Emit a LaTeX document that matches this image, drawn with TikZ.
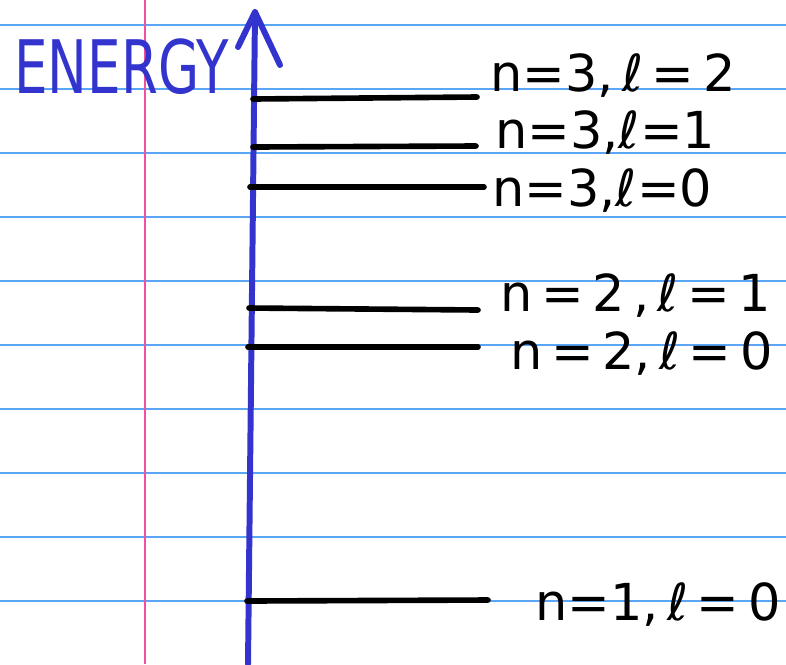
\documentclass[tikz,border=0pt]{standalone}
\usepackage{fontspec}
\setmainfont{DejaVu Sans}
\usepackage{tikz}
\usetikzlibrary{arrows.meta, positioning, calc}
\usepackage{xcolor}
\definecolor{rulecolor}{RGB}{90, 165, 245}
\definecolor{margincolor}{RGB}{240, 80, 160}
\definecolor{axiscolor}{RGB}{50, 52, 205}

\begin{document}
\begin{tikzpicture}[
    x=0.02cm, y=-0.02cm,
    % Paper styles
    ruled/.style={draw=rulecolor, line width=0.9pt},
    margin/.style={draw=margincolor, line width=1pt},
    % Diagram styles
    axis/.style={draw=axiscolor, line width=3.4pt, line cap=round, line join=round},
    level/.style={draw=black, line width=3.2pt, line cap=round},
    levellabel/.style={anchor=west, inner sep=0pt, font=\fontsize{29}{29}\selectfont},
]
\useasboundingbox (0,0) rectangle (786,664);

% Notebook paper
\foreach \y in {25,89,...,601}
  \draw [ruled] (0,\y) -- (786,\y);
\draw [margin] (145,0) -- (145,664);

% Energy axis
\coordinate (base) at (248,664);
\coordinate (tip) at (255,12);
\coordinate (wingl) at (238,47);
\coordinate (wingr) at (280,65);
\draw [axis] (base) -- (tip);
\draw [axis] (wingl) -- (tip) -- (wingr);
\node (energy) [anchor=south west, inner sep=0pt, text=axiscolor, font=\fontsize{42}{42}\selectfont, xscale=0.72] at (14,95) {ENERGY};

% Levels
\node (l32) [levellabel] at (490,76) {n=3,\,ℓ\,=\,2};
\node (l31) [levellabel] at (495,133) {n=3,ℓ=1};
\node (l30) [levellabel] at (492,191) {n=3,ℓ=0};
\node (l21) [levellabel] at (500,296) {n\,=\,2\,,\,ℓ\,=\,1};
\node (l20) [levellabel] at (510,354) {n\,=\,2,\,ℓ\,=\,0};
\node (l10) [levellabel] at (535,605) {n=1,\,ℓ\,=\,0};

\coordinate (a32) at (253,99);
\coordinate (a31) at (253,147);
\coordinate (a30) at (250,187);
\coordinate (a21) at (249,308);
\coordinate (a20) at (248,347);
\coordinate (a10) at (247,601);
\coordinate (e32) at (477,97);
\coordinate (e31) at (476,146);
\coordinate (e30) at (484,187);
\coordinate (e21) at (478,310);
\coordinate (e20) at (478,347);
\coordinate (e10) at (488,600);

\foreach \n in {32,31,30,21,20,10}
  \draw [level] (a\n) -- (e\n);

\end{tikzpicture}
\end{document}
